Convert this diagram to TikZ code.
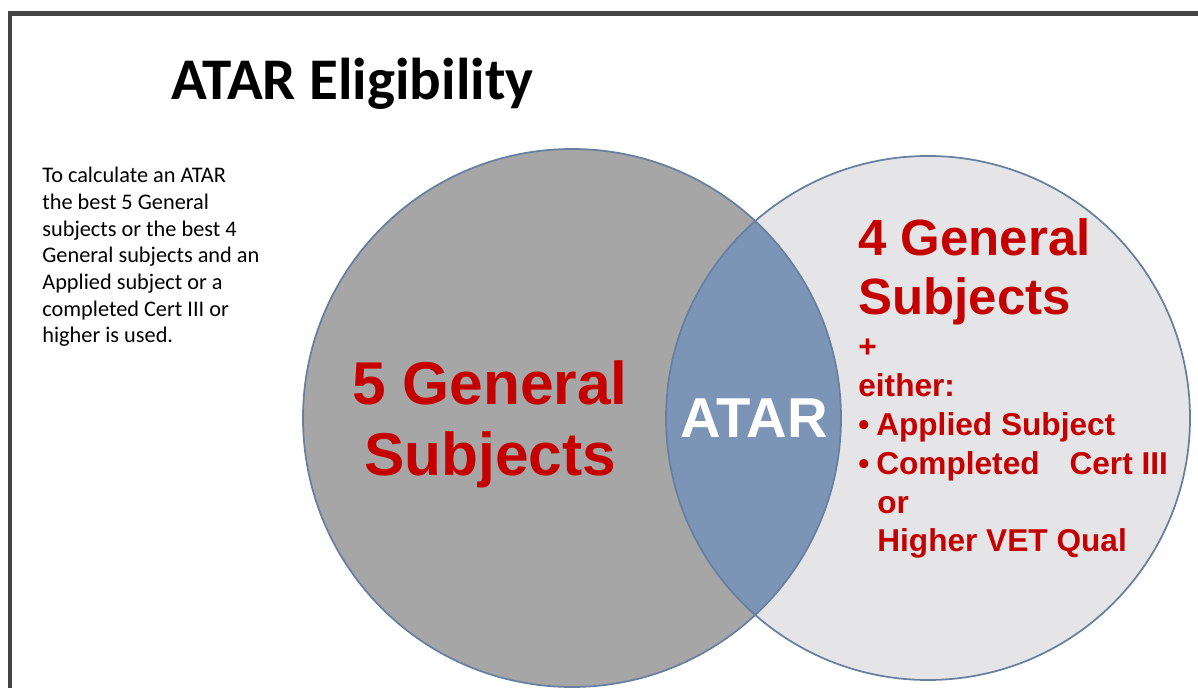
\documentclass[tikz,border=0pt]{standalone}
\usepackage{fontspec}
\setmainfont{Carlito}
\newfontfamily\arialfont{Liberation Sans}
\usepackage{tikz}
\definecolor{framegray}{RGB}{68,68,68}
\definecolor{leftgray}{RGB}{166,166,166}
\definecolor{rightgray}{RGB}{229,229,231}
\definecolor{lensblue}{RGB}{124,148,182}
\definecolor{ringblue}{RGB}{104,128,160}
\definecolor{atarred}{RGB}{196,0,0}
\tikzset{
	ring/.style={line width=0.35mm, color=ringblue},
	redtxt/.style={inner sep=0pt, color=atarred, font=\arialfont\bfseries},
}

\begin{document}
\begin{tikzpicture}[x=0.02cm, y=-0.02cm]
		%%%%% START %%%%%
		\useasboundingbox (0, 0) rectangle (1198, 688);
		
		\fill[framegray] (8, 11) rectangle (1198, 16.5);
		\fill[framegray] (8, 11) rectangle (12, 688);
		
		\node[inner sep=0pt, anchor=base west, font=\fontsize{33.6}{40}\selectfont\bfseries] (title) at (171, 100) {ATAR Eligibility};
		
		% base of a multi-line node = baseline of its last line
		\node[inner sep=0pt, anchor=base west, align=left, font=\fontsize{12.7}{15.2}\selectfont] (note) at (42, 343) {To calculate an ATAR\\the best 5 General\\subjects or the best 4\\General subjects and an\\Applied subject or a\\completed Cert III or\\higher is used.};
		
		\fill[leftgray] (572, 418) circle (269);
		\fill[rightgray] (928, 418) circle (262);
		\begin{scope}
			\clip (572, 418) circle (269);
			\fill[lensblue] (928, 418) circle (262);
		\end{scope}
		\draw[ring] (572, 418) circle (269);
		\draw[ring] (928, 418) circle (262);
		
		\node[redtxt, anchor=base, align=center, font=\arialfont\bfseries\fontsize{34.4}{40.8}\selectfont] (five) at (490, 476) {5 General\\Subjects};
		
		\node[inner sep=0pt, color=white, font=\arialfont\bfseries\fontsize{32}{38}\selectfont] (atar) at (754, 418) {ATAR};
		
		\node[redtxt, anchor=base west, align=left, font=\arialfont\bfseries\fontsize{29}{34}\selectfont] (four) at (858, 315) {4 General\\Subjects};
		\node[redtxt, anchor=base west, align=left, font=\arialfont\bfseries\fontsize{18}{22.1}\selectfont] (either) at (858, 552) {+\\either:\\\makebox[10.2pt][l]{•}Applied Subject\\\makebox[10.2pt][l]{•}Completed\hspace{17pt}Cert III\\\hspace*{10.8pt}or\\\hspace*{10.8pt}Higher VET Qual};
		
		%%%%% END %%%%%
	\end{tikzpicture}
\end{document}
